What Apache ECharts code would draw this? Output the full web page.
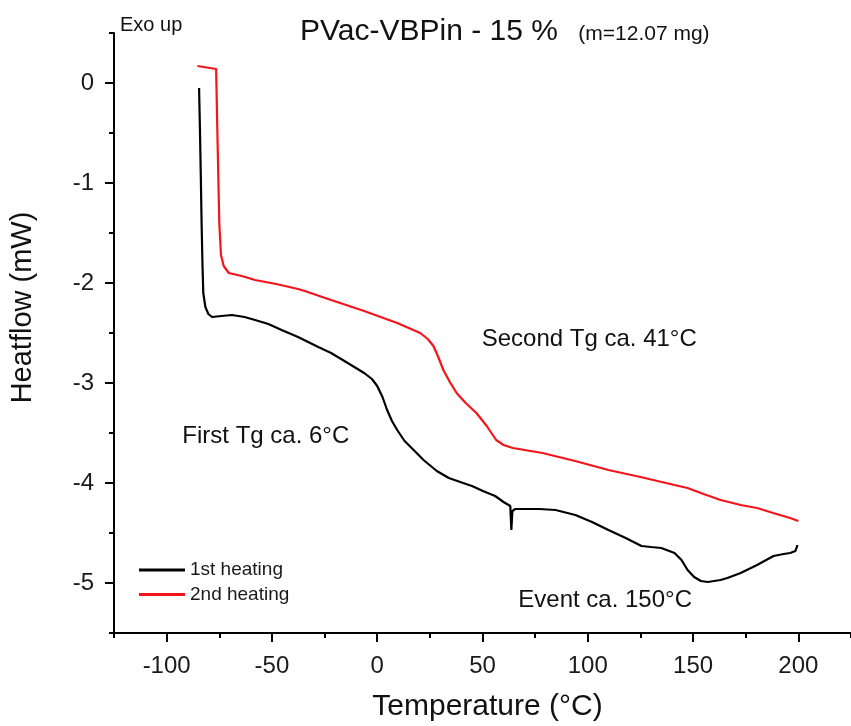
<!DOCTYPE html>
<html>
<head>
<meta charset="utf-8">
<script src="https://cdn.jsdelivr.net/npm/echarts@6/dist/echarts.min.js"></script>
<style>
html,body{margin:0;padding:0;background:#fff;}
#chart{width:851px;height:726px;}
</style>
</head>
<body>
<div id="chart"></div>
<script>
// ---- data ----
const temp1st = [-84.6,-84.2,-83.8,-83.4,-83.0,-82.6,-81.6,-80.2,-78.4,-74.0,-69.0,-63.0,-58.0,-51.7,-45.4,-37.6,-28.0,-21.9,-14.0,-6.2,-2.5,0.0,2.5,4.7,7.0,9.5,13.0,17.3,22.0,28.3,34.0,40.8,45.0,50.2,56.0,60.0,63.2,63.7,64.2,65.5,70.0,77.0,84.7,94.1,102.0,109.8,118.0,125.5,130.0,134.9,141.2,144.5,147.4,150.5,153.7,157.0,160.0,163.0,166.3,172.6,180.4,188.2,193.0,196.1,198.6,199.3,199.6];
const heat1st = [-0.05,-0.45,-0.90,-1.40,-1.80,-2.10,-2.24,-2.31,-2.34,-2.33,-2.32,-2.34,-2.37,-2.41,-2.47,-2.54,-2.64,-2.70,-2.80,-2.90,-2.96,-3.03,-3.14,-3.27,-3.38,-3.47,-3.58,-3.67,-3.77,-3.88,-3.95,-4.00,-4.03,-4.08,-4.13,-4.19,-4.23,-4.47,-4.28,-4.26,-4.26,-4.26,-4.27,-4.32,-4.39,-4.47,-4.55,-4.63,-4.64,-4.65,-4.70,-4.77,-4.87,-4.94,-4.98,-4.99,-4.98,-4.97,-4.95,-4.90,-4.82,-4.73,-4.71,-4.70,-4.68,-4.69,-4.62];
const temp2nd = [-85.4,-76.5,-76.0,-75.5,-75.0,-74.2,-72.9,-70.5,-64.3,-58.0,-48.0,-37.6,-34.4,-21.9,-6.2,9.5,20.4,24.0,26.7,29.0,31.4,34.5,37.7,42.0,47.1,52.0,56.5,60.0,64.4,78.5,94.0,109.8,125.0,141.2,147.4,155.0,163.1,172.6,180.4,188.0,196.1,200.0];
const heat2nd = [0.17,0.14,-0.40,-0.90,-1.40,-1.72,-1.83,-1.90,-1.93,-1.97,-2.01,-2.06,-2.08,-2.17,-2.28,-2.40,-2.50,-2.56,-2.63,-2.74,-2.87,-2.99,-3.10,-3.20,-3.30,-3.43,-3.57,-3.62,-3.65,-3.70,-3.78,-3.87,-3.94,-4.02,-4.05,-4.11,-4.17,-4.22,-4.25,-4.30,-4.35,-4.38];
const seriesNames = ['1st heating', '2nd heating'];
const xMajorTicks = [-100, -50, 0, 50, 100, 150, 200];
const xMinorTicks = [-125, -75, -25, 25, 75, 125, 175, 225];
const yMajorTicks = [0, -1, -2, -3, -4, -5];
const yMinorTicks = [0.5, -0.5, -1.5, -2.5, -3.5, -4.5, -5.5];
const titleMain = 'PVac-VBPin - 15 %';
const titleSub = '(m=12.07 mg)';
const xTitle = 'Temperature (°C)';
const yTitle = 'Heatflow (mW)';
const notes = ['Exo up', 'Second Tg ca. 41°C', 'First Tg ca. 6°C', 'Event ca. 150°C'];

// ---- chart ----
const FONT = '"Liberation Sans", Arial, sans-serif';
const pairs = (xs, ys) => xs.map((x, i) => [x, ys[i]]);
const chart = echarts.init(document.getElementById('chart'), null, {renderer: 'canvas'});

function txt(text, x, y, size, align, extra) {
  return Object.assign({
    type: 'text', x: x, y: y, silent: true,
    style: {
      text: text, fill: '#111', fontSize: size, fontFamily: FONT,
      align: align, textAlign: align, verticalAlign: 'middle', textVerticalAlign: 'middle'
    }
  }, extra || {});
}

const axisLineStyle = {color: '#000', width: 2};
const option = {
  backgroundColor: '#fff',
  animation: false,
  textStyle: {fontFamily: FONT},
  grid: {left: 114, top: 33, width: 744, height: 600, containLabel: false},
  xAxis: [
    {
      type: 'value', min: -125, max: 225, position: 'bottom',
      axisLine: {show: true, onZero: false, lineStyle: axisLineStyle},
      axisTick: {show: true, inside: false, length: 9, customValues: xMajorTicks, lineStyle: axisLineStyle},
      axisLabel: {show: true, customValues: xMajorTicks, fontSize: 24, color: '#1a1a1a', margin: 21, fontFamily: FONT},
      splitLine: {show: false}
    },
    {
      type: 'value', min: -125, max: 225, position: 'bottom',
      axisLine: {show: false, onZero: false},
      axisTick: {show: true, inside: false, length: 5, customValues: xMinorTicks, lineStyle: axisLineStyle},
      axisLabel: {show: false},
      splitLine: {show: false}
    }
  ],
  yAxis: [
    {
      type: 'value', min: -5.5, max: 0.5, position: 'left',
      axisLine: {show: true, onZero: false, lineStyle: axisLineStyle},
      axisTick: {show: true, inside: false, length: 9, customValues: yMajorTicks, lineStyle: axisLineStyle},
      axisLabel: {show: true, customValues: yMajorTicks, fontSize: 24, color: '#1a1a1a', margin: 20, fontFamily: FONT},
      splitLine: {show: false}
    },
    {
      type: 'value', min: -5.5, max: 0.5, position: 'left',
      axisLine: {show: false, onZero: false},
      axisTick: {show: true, inside: false, length: 5, customValues: yMinorTicks, lineStyle: axisLineStyle},
      axisLabel: {show: false},
      splitLine: {show: false}
    }
  ],
  legend: {
    orient: 'vertical', left: 139, top: 560.5, padding: 0, itemGap: 5.5,
    itemWidth: 46, itemHeight: 3, icon: 'rect',
    textStyle: {fontSize: 19, color: '#1a1a1a', fontFamily: FONT},
    data: seriesNames
  },
  series: [
    {
      name: seriesNames[0], type: 'line', xAxisIndex: 0, yAxisIndex: 0,
      data: pairs(temp1st, heat1st), showSymbol: false, symbol: 'none',
      lineStyle: {color: '#000', width: 2.2}, itemStyle: {color: '#000'}, smooth: false
    },
    {
      name: seriesNames[1], type: 'line', xAxisIndex: 0, yAxisIndex: 0,
      data: pairs(temp2nd, heat2nd), showSymbol: false, symbol: 'none',
      lineStyle: {color: '#f5141a', width: 2.2}, itemStyle: {color: '#f5141a'}, smooth: false
    }
  ],
  graphic: [
    txt(titleMain, 300, 31.3, 30, 'left'),
    txt(titleSub, 578.3, 34.4, 21, 'left'),
    txt(notes[0], 120, 25.4, 20, 'left'),
    txt(notes[1], 481.7, 339, 24, 'left'),
    txt(notes[2], 349.3, 436.7, 24, 'right'),
    txt(notes[3], 518.3, 600, 24, 'left'),
    txt(xTitle, 487.5, 706.3, 30, 'center'),
    txt(yTitle, 23.3, 307.5, 29, 'center', {rotation: Math.PI / 2})
  ]
};
chart.setOption(option);
</script>
</body>
</html>
